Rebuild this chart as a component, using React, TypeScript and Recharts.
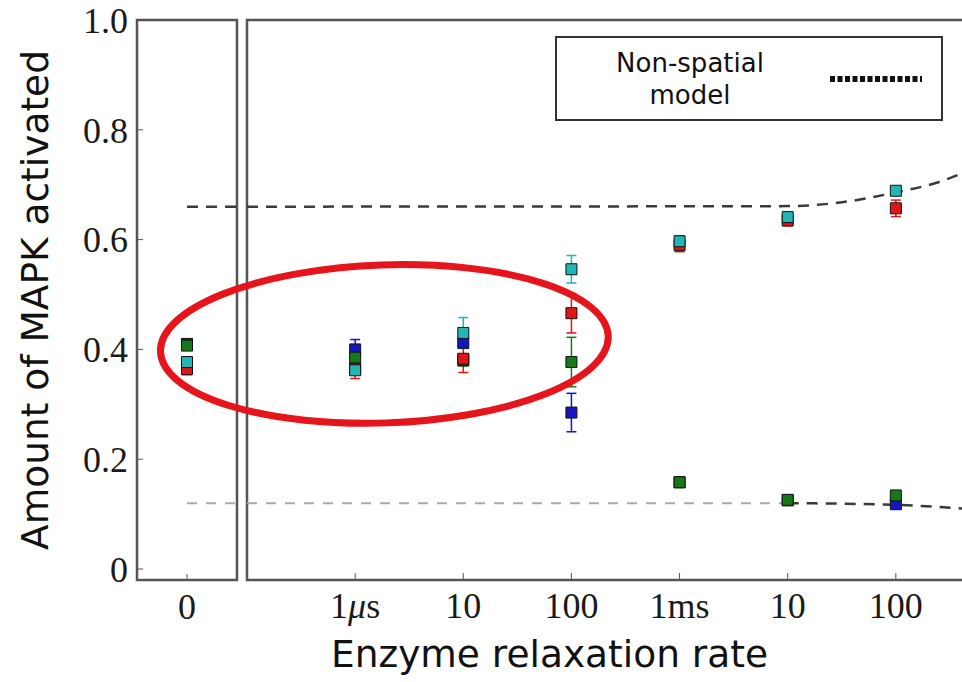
import {
  ComposedChart,
  Scatter,
  Line,
  XAxis,
  YAxis,
  ZAxis,
  ErrorBar,
  ReferenceArea,
  Legend,
} from "recharts";

// relaxation rates (s) on the log panel, and their tick labels
const rateTicks = [1e-6, 1e-5, 1e-4, 1e-3, 1e-2, 1e-1];
const rateLabels = ["1μs", "10", "100", "1ms", "10", "100"];
const zeroLabel = "0";
const yTicks = [0, 0.2, 0.4, 0.6, 0.8, 1.0];

// first value = rate "0" (left panel), then one per rate tick
const blueValues = [0.41, 0.4, 0.412, 0.285, 0.158, 0.125, 0.118];
const blueErrors = [0.005, 0.018, 0.01, 0.035, 0.005, 0.004, 0.004];
const greenValues = [0.407, 0.385, 0.38, 0.377, 0.158, 0.126, 0.134];
const greenErrors = [0.005, 0.01, 0.01, 0.045, 0.005, 0.004, 0.006];
const cyanValues = [0.377, 0.362, 0.43, 0.546, 0.597, 0.641, 0.689];
const cyanErrors = [0.005, 0.006, 0.028, 0.025, 0.01, 0.008, 0.005];
const redValues = [0.364, 0.365, 0.383, 0.466, 0.59, 0.635, 0.657];
const redErrors = [0.01, 0.018, 0.025, 0.036, 0.012, 0.01, 0.015];

// non-spatial model levels and the curves read off the right side
const modelHighLevel = 0.66;
const modelLowLevel = 0.12;
const modelRates = [1e-7, 1e-2, 10 ** -1.5, 1e-1, 10 ** -0.6, 10 ** -0.3];
const modelHigh = [0.66, 0.661, 0.668, 0.686, 0.705, 0.728];
const modelLow = [0.12, 0.12, 0.119, 0.117, 0.113, 0.109];
const lowFlatRates = [1e-7, 1e-2];

// the hand-drawn circle around the fast-rate points
const highlightRate = 10 ** -5.73;
const highlightValue = 0.41;

const legendName = "Non-spatial model";

const series = [
  { name: "blue", color: "#1515c4", values: blueValues, errors: blueErrors },
  { name: "green", color: "#157a15", values: greenValues, errors: greenErrors },
  { name: "red", color: "#e01515", values: redValues, errors: redErrors },
  { name: "cyan", color: "#22b6b6", values: cyanValues, errors: cyanErrors },
];

const minorTicks: number[] = [];
for (let e = -7; e < 0; e++) {
  for (let m = 2; m < 10; m++) minorTicks.push(m * 10 ** e);
}

const serif = "Liberation Serif";
const sans = "DejaVu Sans";
const frame = "#555";
const tickFont = { fontSize: 36, fontFamily: serif, fill: "#1a1a1a" };

function RateTick({ x, y, payload }: any) {
  const label = rateLabels[rateTicks.indexOf(payload.value)] ?? "";
  const parts = label.split("μ");
  return (
    <text x={x} y={y} dy="0.71em" textAnchor="middle" {...tickFont}>
      {parts.length > 1 ? (
        <>
          {parts[0]}
          <tspan fontStyle="italic">μ</tspan>
          {parts[1]}
        </>
      ) : (
        label
      )}
    </text>
  );
}

function ModelLegend({ payload }: any) {
  const entry = (payload || []).find((p: any) => p.value === legendName);
  if (!entry) return null;
  return (
    <div
      style={{
        width: 384,
        height: 81,
        border: "2px solid #333",
        background: "#fff",
        display: "flex",
        alignItems: "center",
        fontFamily: sans,
        fontSize: 26,
        color: "#111",
      }}
    >
      <div style={{ width: 170, marginLeft: 48, textAlign: "center", lineHeight: "32px" }}>
        {entry.value}
      </div>
      <svg width={92} height={10} style={{ marginLeft: 55 }}>
        <line x1={0} y1={5} x2={92} y2={5} stroke="#111" strokeWidth={6} strokeDasharray="5 2.5" />
      </svg>
    </div>
  );
}

export default function App() {
  const leftData = (s: (typeof series)[number]) => [
    { x: 0, y: s.values[0], err: s.errors[0] },
  ];
  const rightData = (s: (typeof series)[number]) =>
    rateTicks.map((r, i) => ({ x: r, y: s.values[i + 1], err: s.errors[i + 1] }));

  const highRight = modelRates.map((r, i) => ({ x: r, y: modelHigh[i] }));
  const lowRight = modelRates
    .map((r, i) => ({ x: r, y: modelLow[i] }))
    .filter((d) => d.x >= 1e-2);
  const lowFlat = lowFlatRates.map((r) => ({ x: r, y: modelLowLevel }));
  const highLeft = [0, 1].map((x) => ({ x, y: modelHighLevel }));
  const lowLeft = [0, 1].map((x) => ({ x, y: modelLowLevel }));

  return (
    <div
      style={{
        position: "fixed",
        left: 0,
        top: 0,
        width: 962,
        height: 682,
        overflow: "hidden",
        background: "#fff",
      }}
    >
      <div style={{ position: "absolute", left: 0, top: 0 }}>
        <ComposedChart width={240} height={682} margin={{ top: 19, right: 2, bottom: 101, left: 0 }}>
          <XAxis
            type="number"
            dataKey="x"
            domain={[-1, 1]}
            ticks={[0]}
            tickFormatter={() => zeroLabel}
            height={1}
            axisLine={false}
            tickSize={-6}
            tickMargin={19}
            tickLine={{ stroke: frame }}
            tick={tickFont}
            interval={0}
          />
          <XAxis
            xAxisId="top"
            orientation="top"
            type="number"
            domain={[-1, 1]}
            ticks={[0]}
            height={1}
            axisLine={false}
            tickSize={-6}
            tickLine={{ stroke: frame }}
            tick={false}
          />
          <YAxis
            type="number"
            dataKey="y"
            domain={[-0.02, 1]}
            ticks={yTicks}
            tickFormatter={(v: number) => (v === 0 ? "0" : v.toFixed(1))}
            width={137}
            axisLine={false}
            tickSize={-6}
            tickMargin={15}
            tickLine={{ stroke: frame }}
            tick={tickFont}
            interval={0}
            label={{
              value: "Amount of MAPK activated",
              angle: -90,
              position: "insideLeft",
              offset: 35,
              fontSize: 37.5,
              fontFamily: sans,
              fill: "#111",
              style: { textAnchor: "middle" },
            }}
          />
          <YAxis
            yAxisId="right"
            orientation="right"
            type="number"
            domain={[-0.02, 1]}
            ticks={yTicks}
            width={1}
            axisLine={false}
            tickSize={-6}
            tickLine={{ stroke: frame }}
            tick={false}
          />
          <ZAxis range={[121, 121]} />
          <ReferenceArea x1={-1} x2={1} y1={-0.02} y2={1} fill="none" stroke={frame} strokeWidth={2.5} ifOverflow="visible" />
          <Line data={highLeft} dataKey="y" stroke="#3a3a3a" strokeWidth={2.5} strokeDasharray="11 8" dot={false} isAnimationActive={false} />
          <Line data={lowLeft} dataKey="y" stroke="#aaa" strokeWidth={2} strokeDasharray="10 9" dot={false} isAnimationActive={false} />
          {series.map((s) => (
            <Scatter key={s.name} data={leftData(s)} dataKey="y" shape="square" fill={s.color} stroke="#111" strokeWidth={1} isAnimationActive={false}>
              <ErrorBar dataKey="err" direction="y" width={5} stroke={s.color} strokeWidth={1.5} />
            </Scatter>
          ))}
        </ComposedChart>
      </div>

      <div style={{ position: "absolute", left: 0, top: 0 }}>
        <ComposedChart width={1010} height={682} margin={{ top: 18, right: 6, bottom: 100, left: 247 }}>
          <XAxis
            type="number"
            dataKey="x"
            scale="log"
            domain={[1e-7, 1]}
            ticks={rateTicks}
            height={1}
            axisLine={false}
            tickSize={-7}
            tickMargin={19}
            tickLine={{ stroke: frame }}
            tick={<RateTick />}
            interval={0}
          />
          <XAxis
            xAxisId="minorBottom"
            type="number"
            scale="log"
            domain={[1e-7, 1]}
            ticks={minorTicks}
            height={1}
            axisLine={false}
            tickSize={-4}
            tickLine={{ stroke: "#777" }}
            tick={false}
            interval={0}
          />
          <XAxis
            xAxisId="top"
            orientation="top"
            type="number"
            scale="log"
            domain={[1e-7, 1]}
            ticks={rateTicks}
            height={1}
            axisLine={false}
            tickSize={-7}
            tickLine={{ stroke: frame }}
            tick={false}
            interval={0}
          />
          <XAxis
            xAxisId="minorTop"
            orientation="top"
            type="number"
            scale="log"
            domain={[1e-7, 1]}
            ticks={minorTicks}
            height={1}
            axisLine={false}
            tickSize={-4}
            tickLine={{ stroke: "#777" }}
            tick={false}
            interval={0}
          />
          <YAxis type="number" dataKey="y" domain={[-0.02, 1]} hide />
          <ZAxis range={[121, 121]} />
          <ReferenceArea x1={1e-7} x2={1} y1={-0.02} y2={1} fill="none" stroke={frame} strokeWidth={2.5} ifOverflow="visible" />
          <Line data={lowFlat} dataKey="y" stroke="#aaa" strokeWidth={2} strokeDasharray="10 9" dot={false} legendType="none" isAnimationActive={false} />
          <Line data={highRight} dataKey="y" name={legendName} type="monotone" stroke="#3a3a3a" strokeWidth={2.5} strokeDasharray="11 8" dot={false} isAnimationActive={false} />
          <Line data={lowRight} dataKey="y" type="monotone" stroke="#3a3a3a" strokeWidth={2.5} strokeDasharray="11 8" dot={false} legendType="none" isAnimationActive={false} />
          {series.map((s) => (
            <Scatter key={s.name} data={rightData(s)} dataKey="y" shape="square" fill={s.color} stroke="#111" strokeWidth={1} legendType="none" isAnimationActive={false}>
              <ErrorBar dataKey="err" direction="y" width={5} stroke={s.color} strokeWidth={1.5} />
            </Scatter>
          ))}
          <Scatter
            data={[{ x: highlightRate, y: highlightValue }]}
            dataKey="y"
            legendType="none"
            isAnimationActive={false}
            shape={(p: any) => (
              <ellipse
                cx={p.cx}
                cy={p.cy}
                rx={224}
                ry={79}
                fill="none"
                stroke="#e6141b"
                strokeWidth={7}
                transform={`rotate(-2 ${p.cx} ${p.cy})`}
              />
            )}
          />
          <Legend
            layout="horizontal"
            verticalAlign="middle"
            align="center"
            wrapperStyle={{ left: 555, top: 36 }}
            content={<ModelLegend />}
          />
        </ComposedChart>
      </div>

      <div
        style={{
          position: "absolute",
          left: 137,
          width: 825,
          top: 634,
          textAlign: "center",
          fontFamily: sans,
          fontSize: 37.5,
          lineHeight: "40px",
          color: "#111",
        }}
      >
        Enzyme relaxation rate
      </div>
    </div>
  );
}
